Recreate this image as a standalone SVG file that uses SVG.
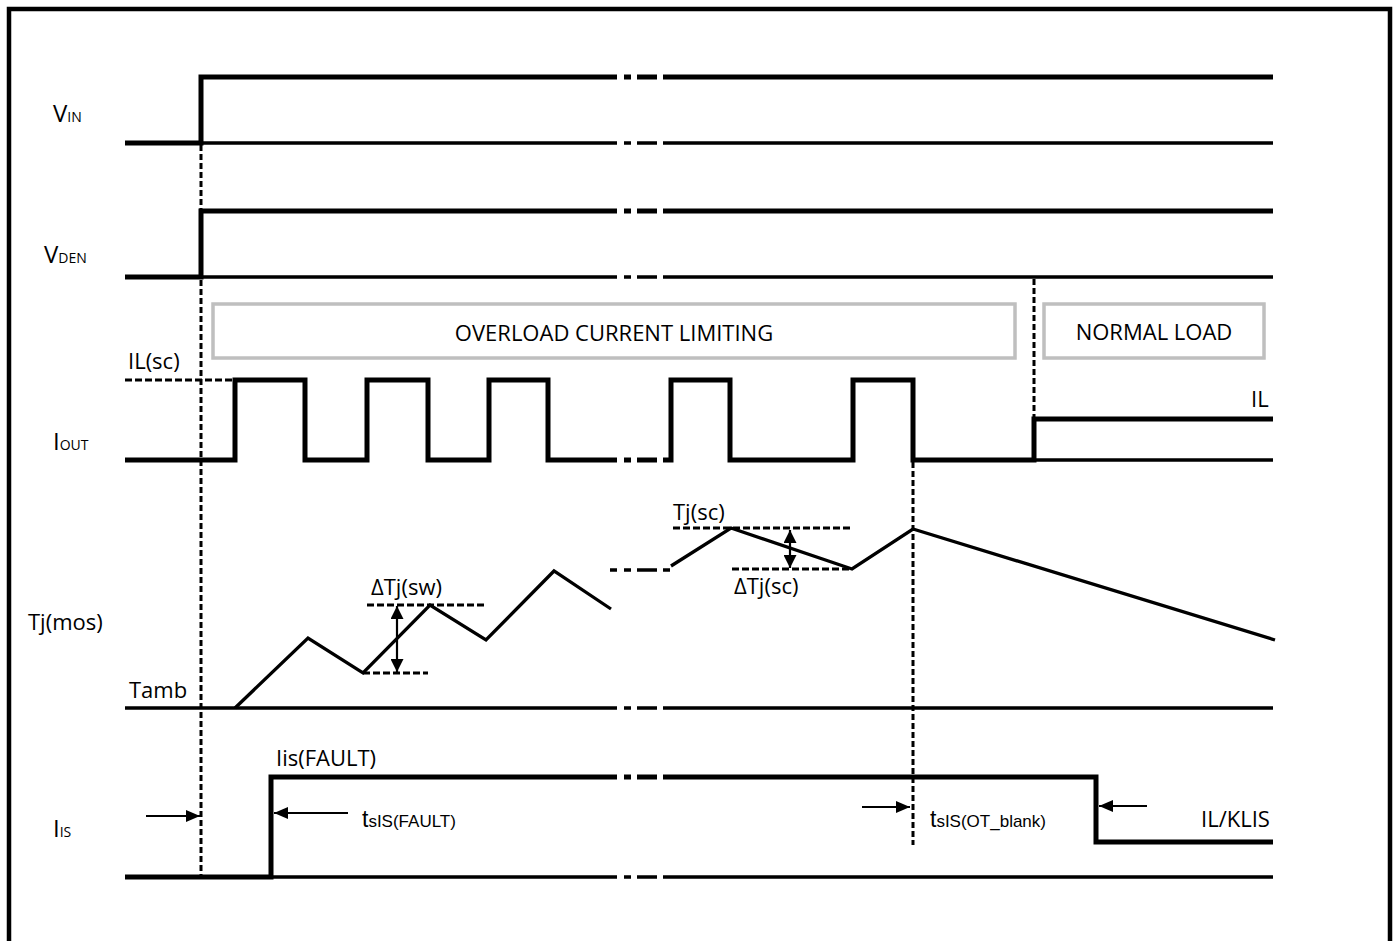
<svg xmlns="http://www.w3.org/2000/svg" width="1395" height="941" viewBox="0 0 1395 941">
<style>
.sig{fill:none;stroke:#000;stroke-width:5;stroke-linejoin:miter;stroke-linecap:butt}
.base{fill:none;stroke:#000;stroke-width:3.3;stroke-linecap:butt}
.tj{fill:none;stroke:#000;stroke-width:3.3;stroke-linejoin:miter}
.dv{fill:none;stroke:#000;stroke-width:3;stroke-dasharray:6 3}
.dh{fill:none;stroke:#000;stroke-width:3;stroke-dasharray:7 3}
.arr{fill:none;stroke:#000;stroke-width:2.2}
.box{fill:none;stroke:#bfbfbf;stroke-width:3.5}
.lbl{font-family:"Open Sans","Liberation Sans",sans-serif;font-size:22px;fill:#000}
.big{font-size:24px}
.sub{font-family:"Open Sans","Liberation Sans",sans-serif;font-size:14px;fill:#000}
.ta{font-family:"Liberation Sans",Arial,sans-serif;fill:#000}
</style>
<defs>
<marker id="ah" viewBox="0 0 14 12" refX="14" refY="6" markerWidth="14" markerHeight="12" orient="auto-start-reverse" markerUnits="userSpaceOnUse"><path d="M0,0 L14,6 L0,12 Z" fill="#000"/></marker>
<marker id="ahs" viewBox="0 0 13 13" refX="13" refY="6.5" markerWidth="13" markerHeight="13" orient="auto-start-reverse" markerUnits="userSpaceOnUse"><path d="M0,0 L13,6.5 L0,13 Z" fill="#000"/></marker>
</defs>
<rect width="1395" height="941" fill="#fff"/>
<path id="frame" d="M9,950 V9 H1390 V950" fill="none" stroke="#000" stroke-width="4.5"/>

<g id="vin">
<path class="base" d="M201,143 H617 M624,143 H631 M637,143 H657 M663,143 H1273"/>
<path class="sig" d="M125,143 H201 V77 H617 M624,77 H631 M637,77 H657 M663,77 H1273"/>
<text class="lbl big" x="53" y="122">V<tspan class="sub">IN</tspan></text>
</g>

<g id="vden">
<path class="base" d="M201,277 H617 M624,277 H631 M637,277 H657 M663,277 H1273"/>
<path class="sig" d="M125,277 H201 V211 H617 M624,211 H631 M637,211 H657 M663,211 H1273"/>
<text class="lbl big" x="44" y="263">V<tspan class="sub">DEN</tspan></text>
</g>

<g id="overload">
<rect class="box" x="213" y="304" width="802" height="54"/>
<text class="lbl" x="614" y="341" text-anchor="middle">OVERLOAD CURRENT LIMITING</text>
</g>

<g id="normal">
<rect class="box" x="1044" y="304" width="220" height="54"/>
<text class="lbl" x="1154" y="340" text-anchor="middle">NORMAL LOAD</text>
</g>

<g id="iout">
<path class="base" d="M1034,460 H1273"/>
<path class="sig" d="M125,460 H235 V380 H305 V460 H367 V380 H428 V460 H489 V380 H548 V460 H617 M624,460 H631 M637,460 H657 M663,460 H671 V380 H730 V460 H853 V380 H913 V460 H1034 V419 H1273"/>
<text class="lbl" x="128" y="369">IL(sc)</text>
<text class="lbl big" x="53" y="450">I<tspan class="sub">OUT</tspan></text>
<text class="lbl" x="1251" y="407">IL</text>
</g>

<g id="tj">
<path class="base" d="M125,708 H617 M624,708 H631 M637,708 H657 M663,708 H1273"/>
<path class="tj" d="M235,708 L308,638 L363,673 L430,605 L486,640 L554,571 L611,609"/>
<path class="base" stroke-width="4" d="M610,570 H617 M624,570 H631 M637,570 H657 M663,570 H670"/>
<path class="tj" d="M671,566 L731,528 L852,569 L913,529 L1275,640"/>
<text class="lbl" x="28" y="630">Tj(mos)</text>
<text class="lbl" x="129" y="698">Tamb</text>
<text class="lbl" x="371" y="595">ΔTj(sw)</text>
<text class="lbl" x="673" y="520">Tj(sc)</text>
<text class="lbl" x="734" y="594">ΔTj(sc)</text>
</g>

<g id="iis">
<path class="base" d="M271,877 H617 M624,877 H631 M637,877 H657 M663,877 H1273"/>
<path class="sig" d="M125,877 H271 V777 H617 M624,777 H631 M637,777 H657 M663,777 H1096 V842 H1273"/>
<text class="lbl big" x="53" y="837">I<tspan class="sub">IS</tspan></text>
<text class="lbl" x="276" y="766">Iis(FAULT)</text>
<text class="ta" x="362" y="827" font-size="23">t<tspan font-size="17">sIS(FAULT)</tspan></text>
<text class="ta" x="930" y="827" font-size="23">t<tspan font-size="17">sIS(OT_blank)</tspan></text>
<text class="lbl" x="1201" y="827">IL/KLIS</text>
</g>

<g id="connectors">
<path class="dv" d="M201,145 V875"/>
<path class="dv" d="M913,462 V845"/>
<path class="dv" d="M1034,279 V419"/>
<path class="dh" d="M125,380 H235"/>
<path class="dh" d="M367,605 H487"/>
<path class="dh" d="M363,673 H428"/>
<path class="dh" d="M673,528 H853"/>
<path class="dh" d="M732,569 H852"/>
<path class="arr" d="M397,606 V672" marker-start="url(#ahs)" marker-end="url(#ahs)"/>
<path class="arr" d="M790,530 V568" marker-start="url(#ahs)" marker-end="url(#ahs)"/>
<path class="arr" d="M146,816 H200" marker-end="url(#ah)"/>
<path class="arr" d="M348,813 H274" marker-end="url(#ah)"/>
<path class="arr" d="M862,807 H910" marker-end="url(#ah)"/>
<path class="arr" d="M1147,806 H1099" marker-end="url(#ah)"/>
</g>
</svg>
